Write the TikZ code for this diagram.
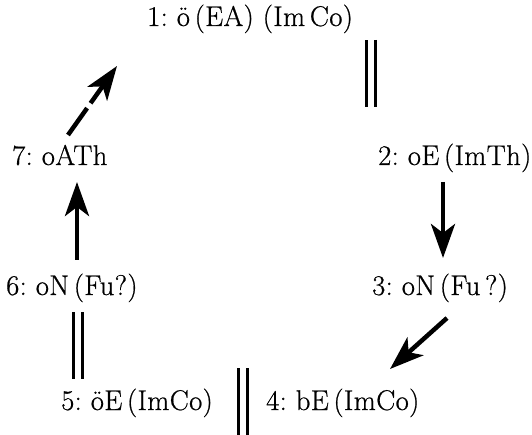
\documentclass[tikz,border=0pt]{standalone}
\usepackage{fontspec}
\usetikzlibrary{arrows.meta}
\newfontfamily\statefont{Latin Modern Roman}[FakeBold=0.7, LetterSpace=1.5]
\frenchspacing
\begin{document}
\begin{tikzpicture}[x=1pt, y=-1pt,
  state/.style={anchor=base west, inner sep=0pt, font=\statefont\fontsize{28.5}{32}\selectfont},
  flow/.style={line width=4.5pt, -{Stealth[length=34pt, width=24pt, inset=9pt]}},
  dflow/.style={flow, dash pattern=on 33pt off 6pt},
  equiv/.style={double, line width=3pt, double distance=6pt}]
\useasboundingbox (0,0) rectangle (532,435);

% states of the cycle
\node[state] (n1) at (147,26)  {1: \"o\,(EA) (Im\,Co)};
\node[state] (n2) at (378,165) {2: oE\,(ImTh)};
\node[state] (n3) at (372,295) {3: oN\,(Fu\,?)};
\node[state] (n4) at (266,410) {4: bE\,(ImCo)};
\node[state] (n5) at (61,410)  {5: \"oE\,(ImCo)};
\node[state] (n6) at (6,295)   {6: oN\,(Fu?)};
\node[state] (n7) at (12,165)  {7: oATh};

% equivalences
\draw[equiv] ([shift={(223.5,14)}]n1.base west) -- ([shift={(-7.5,-58)}]n2.base west);
\draw[equiv] ([shift={(181.5,-42)}]n5.base west) -- ([shift={(-23.5,25)}]n4.base west);
\draw[equiv] ([shift={(71.5,17)}]n6.base west) -- ([shift={(16.5,-31)}]n5.base west);

% transitions
\draw[flow] ([shift={(65,17)}]n2.base west) -- ([shift={(71,-37)}]n3.base west);
\draw[flow] ([shift={(75,23)}]n3.base west) -- ([shift={(124,-41)}]n4.base west);
\draw[flow] ([shift={(71,-35)}]n6.base west) -- ([shift={(65,17)}]n7.base west);
\draw[dflow] ([shift={(56,-30)}]n7.base west) -- ([shift={(-30,40)}]n1.base west);
\end{tikzpicture}
\end{document}
